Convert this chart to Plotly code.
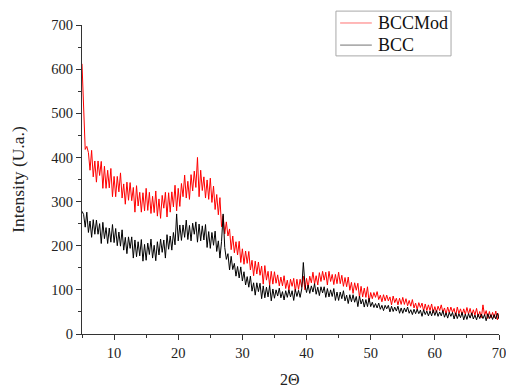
import plotly.graph_objects as go

# 2-theta scan positions (degrees), 0.25 deg step from 5 to 70
two_theta = [5 + 0.25 * i for i in range(261)]

# BCCMod diffractogram (intensity, arbitrary units)
bccmod = [
    612, 505, 418, 425,
    411, 371, 416, 356, 392, 344, 392, 359, 391, 330, 380, 330,
    371, 331, 375, 311, 357, 311, 357, 322, 365, 308, 340, 294,
    344, 303, 343, 302, 332, 276, 336, 290, 321, 276, 320, 279,
    330, 280, 321, 273,
    312, 275, 324, 267, 306, 262, 314, 285, 321, 265, 320, 276,
    322, 288, 337, 279, 330, 289, 341, 311, 360, 308, 346, 305,
    361, 324, 369, 332, 400, 311, 371, 325, 356, 308, 349, 305,
    353, 298, 335, 282,
    316, 270, 309, 243,
    268, 227, 254, 222, 238, 191, 222, 184, 209, 179, 210, 162,
    193, 158, 188, 160, 187, 145, 167, 132, 165, 136, 163, 133,
    154, 113, 155, 122, 142, 110, 142, 113,
    141, 115, 134, 109, 129, 109, 132, 103, 122, 99, 124, 108,
    126, 96, 124, 101, 124, 106, 131, 100, 126, 105, 131, 116,
    140, 113, 132, 111, 139, 119, 142, 122, 140, 111, 142, 119,
    135, 112, 135, 114, 140, 114, 133, 108, 128, 107, 129, 99,
    117, 92, 116, 99, 115, 83, 108, 84, 104, 83, 107, 73,
    94, 80, 94, 83, 96, 78, 88, 73, 89, 75, 88, 75,
    84, 66, 86, 71, 81, 66, 81, 67, 83, 67, 80, 64,
    76, 63, 78, 59, 70, 55, 71, 60, 70, 52, 68, 53,
    66, 53, 68, 48, 62, 49, 63, 53, 66, 49, 59, 45,
    61, 48, 61, 49, 58, 41, 61, 46, 57, 43, 57, 44,
    60, 45, 58, 42,
    55, 43, 58, 39, 51, 37, 66, 42, 53, 35, 51, 36,
    49, 37, 52, 32, 47,
]

# BCC diffractogram (intensity, arbitrary units)
bcc = [
    278, 271, 242, 276,
    230, 256, 219, 259, 226, 258, 226, 250, 205, 253, 216, 241,
    205, 240, 208, 248, 207, 239, 200, 231, 199, 236, 190, 219,
    182, 220, 194, 220, 172, 213, 175, 209, 177, 214, 165, 203,
    167, 206, 180, 215, 172, 201, 166, 209, 179, 215, 185, 213,
    172, 225, 192, 222, 190, 230, 202, 272, 211, 247, 212, 247,
    219, 258, 214, 246, 211, 251, 226, 254, 208, 249, 211, 245,
    213, 248, 196, 232, 194, 230, 201, 233, 187, 211, 172, 209,
    272, 196, 169, 182, 145, 176, 146, 160, 131, 153, 127, 152,
    120, 141, 111, 130, 106, 131, 97, 116, 88, 116, 96, 115,
    80, 109, 82, 106, 84, 110, 75, 102,
    81, 100, 86, 104, 82, 96, 77, 98, 83, 100, 84, 98,
    76, 101, 85, 99, 83, 102, 162, 112, 94, 111, 92, 109,
    95, 114, 90, 106, 87, 107, 93, 107, 83, 103, 84, 100,
    85, 103, 76, 95, 76, 95, 80, 98, 75, 88, 69, 89,
    73, 89, 72, 85, 62, 86, 68, 79, 61, 78, 62, 81,
    62, 72, 60, 69, 59, 70, 56, 65, 53, 65, 57, 65,
    50, 63, 51, 61, 52, 63, 47, 59, 47, 59, 50, 61,
    47, 55, 44, 56, 46, 56, 46, 54, 40, 55, 44, 52,
    41, 52, 41, 55, 42, 53, 40, 50, 41, 53, 38, 48,
    36, 49, 40, 49, 34, 48, 35, 46, 37, 49, 32, 45,
    33, 46, 36, 48, 34, 43, 32, 45, 35, 45, 35, 44,
    30, 46, 35, 44, 33, 44, 34, 47, 34,
]

series_names = ["BCCMod", "BCC"]
series_colors = ["#ff0000", "#000000"]

x_ticks = [10, 20, 30, 40, 50, 60, 70]
y_ticks = [0, 100, 200, 300, 400, 500, 600, 700]

serif = "Liberation Serif, Times New Roman, serif"

fig = go.Figure()
for name, color, values in zip(series_names, series_colors, [bccmod, bcc]):
    fig.add_trace(go.Scatter(x=two_theta, y=values, mode="lines", name=name,
                             showlegend=False,
                             line=dict(color=color, width=1)))

# Boxed key in the upper right: outline, line samples and labels (paper coords)
key_left, key_right, key_bottom, key_top = 0.609, 0.885, 0.900, 1.045
key_rows = [1.0065, 0.935]
shapes = [dict(type="rect", xref="paper", yref="paper",
               x0=key_left, x1=key_right, y0=key_bottom, y1=key_top,
               line=dict(color="#a8a8a8", width=1), fillcolor="white",
               layer="above")]
annotations = []
for name, color, row in zip(series_names, series_colors, key_rows):
    shapes.append(dict(type="line", xref="paper", yref="paper",
                       x0=0.619, x1=0.695, y0=row, y1=row,
                       line=dict(color=color, width=1), opacity=0.55,
                       layer="above"))
    annotations.append(dict(text=name, xref="paper", yref="paper",
                            x=0.706, y=row, xanchor="left", yanchor="middle",
                            showarrow=False,
                            font=dict(family=serif, size=18, color="#111111")))

# x-axis title placed below the tick labels
annotations.append(dict(text="2Θ", xref="paper", yref="paper",
                        x=0.499, y=-0.148, xanchor="center", yanchor="middle",
                        showarrow=False,
                        font=dict(family=serif, size=16, color="#222222")))

axis_common = dict(
    showline=True, linecolor="#333333", linewidth=1.2, mirror=False,
    showgrid=False, zeroline=False,
    ticks="outside", ticklen=5, tickwidth=1.2, tickcolor="#333333",
    tickfont=dict(family=serif, size=14.5, color="#222222"),
)

fig.update_layout(
    width=506, height=391,
    margin=dict(l=82, r=7, t=25, b=57),
    paper_bgcolor="white", plot_bgcolor="white",
    showlegend=False,
    shapes=shapes,
    annotations=annotations,
    xaxis=dict(
        range=[5, 70], tickvals=x_ticks, ticklabeloverflow="allow",
        minor=dict(ticks="outside", ticklen=3, tickcolor="#333333",
                   dtick=5, tick0=0, tickwidth=1),
        automargin=False,
        **axis_common,
    ),
    yaxis=dict(
        range=[0, 700], tickvals=y_ticks,
        minor=dict(ticks="outside", ticklen=3, tickcolor="#333333",
                   dtick=50, tick0=0, tickwidth=1),
        title=dict(text="Intensity (U.a.)",
                   font=dict(family=serif, size=17.5, color="#222222"),
                   standoff=22),
        automargin=False,
        **axis_common,
    ),
)

fig.write_html("out.html")
